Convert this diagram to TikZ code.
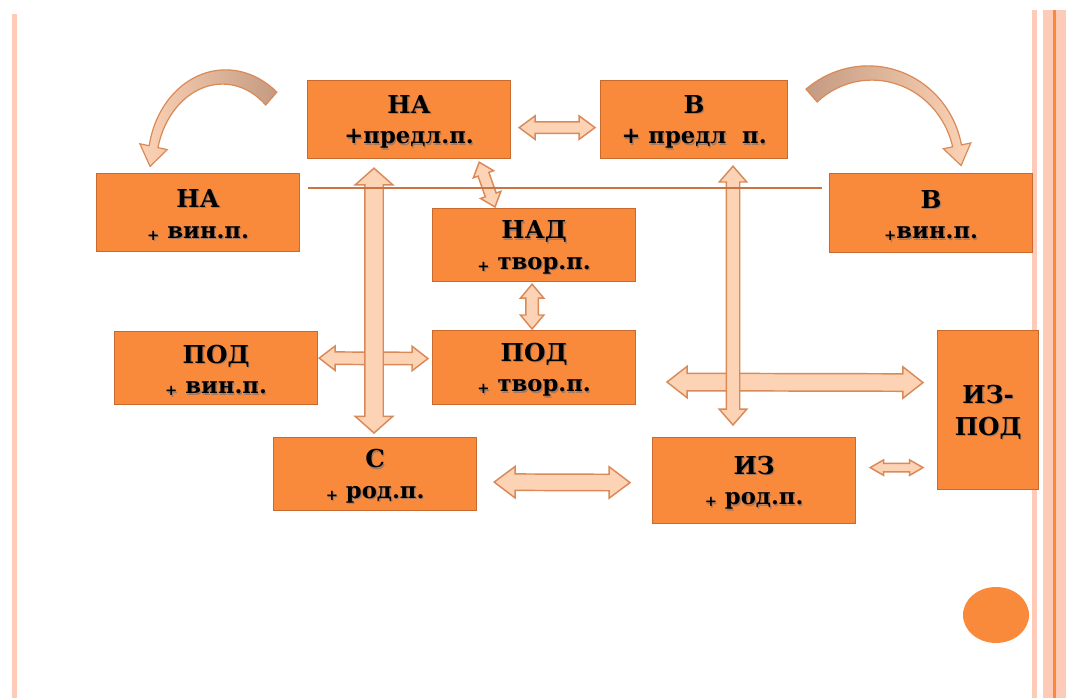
\documentclass[tikz,border=0pt]{standalone}
\usepackage{fontspec}
\setmainfont{DejaVu Serif}
\usetikzlibrary{shapes.arrows,calc}
\newdimen\pxu \pxu=0.75pt
\definecolor{boxfill}{HTML}{F98A3C}
\definecolor{boxline}{HTML}{C8692E}
\definecolor{arrfill}{HTML}{FDD3B6}
\definecolor{arrline}{HTML}{D98A58}
\definecolor{tailcol}{HTML}{C49B82}
\definecolor{stripe}{HTML}{FDCBB8}
\definecolor{stripeline}{HTML}{F98A3C}
\definecolor{linecol}{HTML}{C97543}
\definecolor{shadowcol}{HTML}{7A4020}
\tikzset{
 box/.style={draw=boxline, fill=boxfill, line width=0.9pt, anchor=north west, inner sep=0pt, align=center,
   font=\bfseries\fontsize{17}{23}\selectfont},
 dbl/.style={double arrow, draw=arrline, fill=arrfill, line width=1.1pt, inner xsep=0pt},
 curvarr/.style={draw=arrline, line width=0.9pt},
 connline/.style={draw=linecol, line width=2pt},
}
\newcommand\shtext[1]{\rlap{\kern0.9pt\raisebox{-0.9pt}{\textcolor{shadowcol!70}{#1}}}#1}
\newcommand\boxtitle[1]{{\fontsize{18.5}{23}\selectfont\rule{0pt}{18pt}\shtext{#1}}}
\newcommand\boxsub[1]{\shtext{#1}}
\newcommand\splus{\raisebox{-1.5pt}{\fontsize{11}{11}\selectfont +}}
\newcommand\barrow[5]{%
 \path let \p1=#1, \p2=#2, \n1={atan2(\y2-\y1,\x2-\x1)}, \n2={veclen(\x2-\x1,\y2-\y1)} in
  node[dbl, rotate=\n1, minimum height=\n2, minimum width=0pt, inner ysep={#4/2*\pxu},
       double arrow head extend={(#3-#4)/2*\pxu}, double arrow tip angle=#5] at ($#1!0.5!#2$) {};}
\begin{document}
\begin{tikzpicture}[x=0.75pt,y=-0.75pt]
\useasboundingbox (0,0) rectangle (1068,698);
\fill[white] (0,0) rectangle (1068,698);
% border stripes
\fill[stripe] (12,14) rectangle (17,698);
\fill[stripe] (1032,10) rectangle (1037,698);
\fill[stripe] (1043,10) rectangle (1066,698);
\fill[stripeline] (1053,10) rectangle (1055.5,698);
% boxes
\node[box, minimum width=203\pxu, minimum height=78\pxu] (naP) at (307,80) {\boxtitle{НА}\\\boxsub{+предл.п.}};
\node[box, minimum width=187\pxu, minimum height=78\pxu] (vP) at (600,80) {\boxtitle{В}\\\boxsub{+ предл\ \ п.}};
\node[box, minimum width=203\pxu, minimum height=78\pxu] (naV) at (96,173) {\boxtitle{НА}\\\boxsub{\splus\ вин.п.}};
\node[box, minimum width=203\pxu, minimum height=79\pxu] (vV) at (829,173) {\boxtitle{В}\\\boxsub{\splus вин.п.}};
\node[box, minimum width=203\pxu, minimum height=73\pxu] (nad) at (432,208) {\boxtitle{НАД}\\\boxsub{\splus\ твор.п.}};
\node[box, minimum width=203\pxu, minimum height=73\pxu] (podV) at (114,331) {\boxtitle{ПОД}\\\boxsub{\splus\ вин.п.}};
\node[box, minimum width=203\pxu, minimum height=74\pxu] (podT) at (432,330) {\boxtitle{ПОД}\\\boxsub{\splus\ твор.п.}};
\node[box, minimum width=203\pxu, minimum height=73\pxu] (s) at (273,437) {\boxtitle{С}\\\boxsub{\splus\ род.п.}};
\node[box, minimum width=203\pxu, minimum height=86\pxu] (iz) at (652,437) {\boxtitle{ИЗ}\\\boxsub{\splus\ род.п.}};
\node[box, minimum width=101\pxu, minimum height=159\pxu, font=\bfseries\fontsize{18.5}{24}\selectfont] (izpod) at (937,330) {\rule{0pt}{18pt}\shtext{ИЗ-}\\\shtext{ПОД}};
% circle
\fill[boxfill] (996,615) ellipse [x radius=33, y radius=28];
% block arrows
\barrow{($(naP.east)+(8,8)$)}{($(vP.west)+(-5,8)$)}{22}{10}{73}
\barrow{($(naP.south east)+(-32,3)$)}{($(nad.north west)+(63,-1)$)}{20}{10}{80}
\barrow{($(podV.east)+(1,-10)$)}{($(podT.west)+(-4,-9)$)}{23}{11}{75}
\barrow{($(nad.south)+(-2,2)$)}{($(podT.north)+(-2,-1)$)}{22}{11}{80}
\barrow{($(s.east)+(17,8)$)}{($(iz.west)+(-22,2)$)}{30}{15}{74}
\barrow{($(iz.north west)+(15,-55)$)}{($(izpod.west)+(-14,-27.5)$)}{30}{16}{76}
\barrow{($(iz.east)+(14,-13)$)}{($(izpod.west)+(-14,57.5)$)}{14}{7}{60}
\barrow{($(naP.south west)+(67,9)$)}{($(s.north west)+(101,-4)$)}{36}{17}{97}
\barrow{($(vP.south west)+(133,7)$)}{($(iz.north west)+(81,-12)$)}{26}{12}{82}
% thin line
\coordinate (lnA) at ($(naV.north east)+(8,15)$);
\coordinate (lnB) at ($(vV.north west)+(-7,15)$);
\draw[connline] (lnA) -- (lnB);
% curved arrows
\begin{scope}[shift={(224,165)}]
\draw[curvarr, left color=arrfill, right color=tailcol]
 plot[domain=-49:-168, samples=40] ({(72+8.5-4*(-49-(\x))/119)*cos(\x)}, {(88+8.5-4*(-49-(\x))/119)*sin(\x)})
 -- ({86*cos(-168)},{102*sin(-168)}) -- (-73.9,1.4) -- ({58*cos(-168)},{74*sin(-168)})
 -- plot[domain=-168:-49, samples=40] ({(72-8.5+4*(-49-(\x))/119)*cos(\x)}, {(88-8.5+4*(-49-(\x))/119)*sin(\x)})
 -- cycle;
\end{scope}
\begin{scope}[shift={(870,165)}, xscale=-1]
\draw[curvarr, left color=tailcol, right color=arrfill]
 plot[domain=-49:-168, samples=40] ({(89+8.5-4*(-49-(\x))/119)*cos(\x)}, {(92+8.5-4*(-49-(\x))/119)*sin(\x)})
 -- ({103*cos(-168)},{106*sin(-168)}) -- (-91.1,0.5) -- ({75*cos(-168)},{78*sin(-168)})
 -- plot[domain=-168:-49, samples=40] ({(89-8.5+4*(-49-(\x))/119)*cos(\x)}, {(92-8.5+4*(-49-(\x))/119)*sin(\x)})
 -- cycle;
\end{scope}
\end{tikzpicture}
\end{document}
